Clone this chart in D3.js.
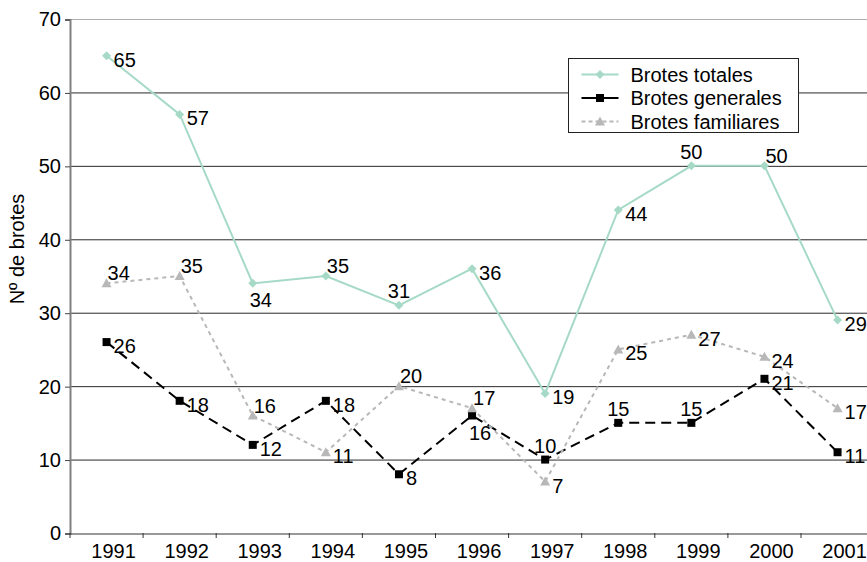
<!DOCTYPE html>
<html>
<head>
<meta charset="utf-8">
<script src="https://cdn.jsdelivr.net/npm/d3@7"></script>
<style>
  body { margin: 0; background: #fff; }
  svg { display: block; font-family: 'Liberation Sans', Arial, sans-serif; }
</style>
</head>
<body>
<svg id="chart" width="867" height="562"></svg>
<script>
// Data
const years = ['1991', '1992', '1993', '1994', '1995', '1996', '1997', '1998', '1999', '2000', '2001']
const totales = [65, 57, 34, 35, 31, 36, 19, 44, 50, 50, 29]
const generales = [26, 18, 12, 18, 8, 16, 10, 15, 15, 21, 11]
const familiares = [34, 35, 16, 11, 20, 17, 7, 25, 27, 24, 17]
const yTicks = [0, 10, 20, 30, 40, 50, 60, 70]

// Where each data label sits relative to its point
const posTotales = ['r', 'r', 'b', 'tr', 't', 'r', 'r', 'r', 't', 'tr', 'r']
const posGenerales = ['r', 'r', 'r', 'r', 'r', 'b', 't', 't', 't', 'r', 'r']
const posFamiliares = ['tr', 'tr', 'tr', 'r', 'tr', 'tr', 'r', 'r', 'r', 'r', 'r']

const labelPlace = {
  r: { anchor: 'start', dx: 7, dy: 11 },
  t: { anchor: 'middle', dx: 0, dy: -7 },
  tr: { anchor: 'start', dx: 1, dy: -3 },
  b: { anchor: 'middle', dx: 8, dy: 24 }
}

const shapes = {
  diamond: 'M0,-4.5L4.5,0L0,4.5L-4.5,0Z',
  square: 'M-4,-4H4V4H-4Z',
  triangle: 'M0,-5L5,4L-5,4Z'
}

const series = [
  { name: 'Brotes totales', values: totales, pos: posTotales, color: '#a6dac7', dash: null, width: 2, shape: 'diamond' },
  { name: 'Brotes generales', values: generales, pos: posGenerales, color: '#000', dash: '10,6', width: 2, shape: 'square' },
  { name: 'Brotes familiares', values: familiares, pos: posFamiliares, color: '#b8b8b8', dash: '4,4', width: 2, shape: 'triangle' }
]

const svg = d3.select('#chart')
const fontSize = 20

const plot = { left: 70, top: 19, bottom: 533, step: 73.1 }
const x = d3.scaleBand()
  .domain(years)
  .range([plot.left, plot.left + plot.step * years.length])
  .padding(0)
const y = d3.scaleLinear().domain([0, 70]).range([plot.bottom, plot.top])
const cx = function (d, i) { return x(years[i]) + x.bandwidth() / 2 }

// Gridlines
svg.append('g')
  .selectAll('line')
  .data(yTicks.filter(function (d) { return d > 0 }))
  .enter().append('line')
  .attr('x1', plot.left).attr('x2', 867)
  .attr('y1', function (d) { return y(d) + 0.5 })
  .attr('y2', function (d) { return y(d) + 0.5 })
  .attr('stroke', function (d) { return d === 70 ? '#b0b0b0' : '#2a2a2a' })
  .attr('stroke-width', 1)

// Y axis
const yAxis = svg.append('g')
  .attr('transform', `translate(${plot.left}, 0.5)`)
  .call(d3.axisLeft(y).tickValues(yTicks).tickSize(5).tickPadding(4))
yAxis.select('.domain').attr('stroke', '#808080').attr('stroke-width', 2)
yAxis.selectAll('.tick line').attr('stroke', '#444')
yAxis.selectAll('.tick text')
  .attr('font-size', fontSize)
  .attr('font-family', 'Liberation Sans, Arial, sans-serif')
  .attr('fill', '#000')

// X axis
const xAxis = svg.append('g')
  .attr('transform', `translate(0, ${plot.bottom + 0.5})`)
  .call(d3.axisBottom(x).tickSize(0).tickPadding(0))
xAxis.select('.domain').attr('stroke', '#333').attr('stroke-width', 1)
xAxis.selectAll('.tick text')
  .attr('font-size', fontSize)
  .attr('font-family', 'Liberation Sans, Arial, sans-serif')
  .attr('fill', '#000')
  .attr('dx', 7)
  .attr('dy', null)
  .attr('y', 24)

// Tick marks between categories
svg.append('g')
  .selectAll('line')
  .data(years.concat(['end']))
  .enter().append('line')
  .attr('x1', function (d, i) { return plot.left + i * x.bandwidth() })
  .attr('x2', function (d, i) { return plot.left + i * x.bandwidth() })
  .attr('y1', plot.bottom)
  .attr('y2', plot.bottom + 5)
  .attr('stroke', '#333')

// Y axis title
svg.append('text')
  .attr('transform', 'translate(24, 249) rotate(-90)')
  .attr('text-anchor', 'middle')
  .attr('font-size', fontSize)
  .text('Nº de brotes')

// Lines, markers and labels
const line = d3.line()
  .x(cx)
  .y(function (d) { return y(d) })

series.forEach(function (s) {
  const g = svg.append('g')
  g.append('path')
    .datum(s.values)
    .attr('d', line)
    .attr('fill', 'none')
    .attr('stroke', s.color)
    .attr('stroke-width', s.width)
    .attr('stroke-dasharray', s.dash)

  g.selectAll('path.marker')
    .data(s.values)
    .enter().append('path')
    .attr('class', 'marker')
    .attr('d', shapes[s.shape])
    .attr('transform', function (d, i) { return `translate(${cx(d, i)}, ${y(d)})` })
    .attr('fill', s.color)
})

series.forEach(function (s) {
  svg.append('g')
    .selectAll('text')
    .data(s.values)
    .enter().append('text')
    .attr('x', function (d, i) { return cx(d, i) + labelPlace[s.pos[i]].dx })
    .attr('y', function (d, i) { return y(d) + labelPlace[s.pos[i]].dy })
    .attr('text-anchor', function (d, i) { return labelPlace[s.pos[i]].anchor })
    .attr('font-size', fontSize)
    .attr('fill', '#000')
    .text(function (d) { return d })
})

// Legend
const legend = svg.append('g').attr('transform', 'translate(568.5, 58.5)')
legend.append('rect')
  .attr('width', 230).attr('height', 74)
  .attr('fill', '#fff')
  .attr('stroke', '#222')

const rows = legend.selectAll('g.row')
  .data(series)
  .enter().append('g')
  .attr('class', 'row')
  .attr('transform', function (d, i) { return `translate(0, ${16 + i * 23.5})` })

rows.append('line')
  .attr('x1', 13).attr('x2', 50)
  .attr('stroke', function (d) { return d.color })
  .attr('stroke-width', 2)
  .attr('stroke-dasharray', function (d) { return d.shape === 'triangle' ? '4,3' : null })
rows.append('path')
  .attr('d', function (d) { return shapes[d.shape] })
  .attr('transform', 'translate(31.5, 0)')
  .attr('fill', function (d) { return d.color })
rows.append('text')
  .attr('x', 62)
  .attr('y', 7)
  .attr('font-size', fontSize)
  .text(function (d) { return d.name })
</script>
</body>
</html>
